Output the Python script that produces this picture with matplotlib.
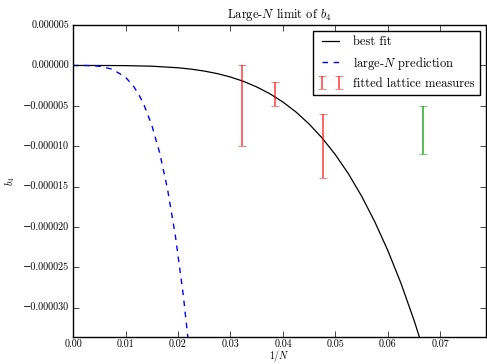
import matplotlib
matplotlib.use("Agg")
import matplotlib.pyplot as plt
import numpy as np

plt.style.use('classic')
plt.rcParams['font.family'] = ['cmr10', 'DejaVu Serif']
plt.rcParams['mathtext.fontset'] = 'cm'
plt.rcParams['axes.formatter.use_mathtext'] = True
plt.rcParams['axes.unicode_minus'] = True

# best fit curve, x = 1/N, y in units of 1e-6
fit_x = [0.0, 0.005, 0.01, 0.015, 0.02, 0.0225, 0.025, 0.0275, 0.03, 0.0325, 0.035,
         0.0375, 0.04, 0.0425, 0.045, 0.0475, 0.05, 0.0525, 0.055, 0.0575, 0.06,
         0.0625, 0.065, 0.0675]
fit_y = [0.0, -0.0011, -0.018, -0.090, -0.283, -0.454, -0.691, -1.01, -1.43, -1.97, -2.66,
         -3.50, -4.53, -5.77, -7.26, -9.01, -11.06, -13.44, -16.20, -19.36, -22.94,
         -27.0, -31.6, -36.7]

# large-N prediction, y in units of 1e-6
pred_x = [0.0, 0.0025, 0.005, 0.0075, 0.01, 0.0115, 0.0125, 0.0135, 0.015, 0.0165,
          0.018, 0.0195, 0.021, 0.0225]
pred_y = [0.0, -0.0057, -0.091, -0.46, -1.46, -2.55, -3.56, -4.85, -7.39, -10.8,
          -15.3, -21.1, -28.4, -37.4]

# fitted lattice measures
N_red = [31, 26, 21]
b4_red = [-5.0, -3.5, -10.0]
err_red = [5.0, 1.5, 4.0]
N_green = [15]
b4_green = [-8.0]
err_green = [3.0]

scale = 1e-6

fig = plt.figure(figsize=(4.87, 3.64), dpi=100, facecolor='white')
ax = fig.add_axes([0.150, 0.075, 0.848, 0.856])

ax.plot(fit_x, np.array(fit_y) * scale, color='k', lw=0.9, label='best fit')
ax.plot(pred_x, np.array(pred_y) * scale, color='b', ls=(0, (4, 4)), lw=1.0,
        label=r'large-$N$ prediction')
ax.errorbar(1.0 / np.array(N_red), np.array(b4_red) * scale, yerr=np.array(err_red) * scale,
            fmt='none', ecolor='r', alpha=0.7, elinewidth=1.2, capsize=3,
            label='fitted lattice measures')
ax.errorbar(1.0 / np.array(N_green), np.array(b4_green) * scale, yerr=np.array(err_green) * scale,
            fmt='none', ecolor='#22aa22', alpha=0.9, elinewidth=1.2, capsize=3)

ax.set_xlim(0, 0.0787)
ax.set_ylim(-3.36e-5, 5e-6)
ax.set_xticks([0.0, 0.01, 0.02, 0.03, 0.04, 0.05, 0.06, 0.07])
ax.set_xticklabels(['0.00', '0.01', '0.02', '0.03', '0.04', '0.05', '0.06', '0.07'])
yt = [5e-6, 0, -5e-6, -1e-5, -1.5e-5, -2e-5, -2.5e-5, -3e-5]
ax.set_yticks(yt)
ax.set_yticklabels(['0.000005', '0.000000', '\u22120.000005', '\u22120.000010',
                    '\u22120.000015', '\u22120.000020', '\u22120.000025', '\u22120.000030'])
ax.tick_params(labelsize=7.2)
ax.tick_params(axis='x', pad=2)
ax.tick_params(axis='y', pad=3)
ax.set_xlabel(r'$1/N$', fontsize=7.2, labelpad=-0.5)
ax.set_ylabel(r'$b_4$', fontsize=7.2, labelpad=4)
ax.set_title(r'Large-$N$ limit of $b_4$', fontsize=9)
leg = ax.legend(loc='upper right', fontsize=9, numpoints=2, handlelength=2.0)
leg.get_frame().set_linewidth(1.0)

fig.savefig('out.png', dpi=100, facecolor='white')
